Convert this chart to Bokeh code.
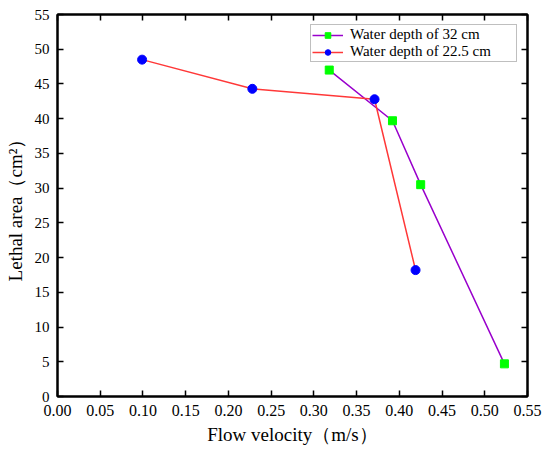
from bokeh.plotting import figure
from bokeh.models import (Range1d, LinearAxis, FixedTicker, NumeralTickFormatter, Legend, LegendItem,
                          CustomJSTickFormatter, CustomLabelingPolicy)
from bokeh.embed import file_html
from bokeh.resources import INLINE

# ---- data ----
vel_32 = [0.318, 0.392, 0.425, 0.523]
area_32 = [47.0, 39.7, 30.5, 4.7]
vel_225 = [0.099, 0.228, 0.371, 0.419]
area_225 = [48.5, 44.3, 42.8, 18.2]
series_labels = ["Water depth of 32 cm", "Water depth of 22.5 cm"]
x_ticks = [0.00, 0.05, 0.10, 0.15, 0.20, 0.25, 0.30, 0.35, 0.40, 0.45, 0.50, 0.55]
y_ticks = [0, 5, 10, 15, 20, 25, 30, 35, 40, 45, 50, 55]
x_label = "Flow velocity（m/s）"
y_label = "Lethal area（cm²）"

FONT = "Liberation Serif"
TXT = "black"

p = figure(width=550, height=456, output_backend="svg", toolbar_location=None,
           x_range=Range1d(0, 0.55), y_range=Range1d(0, 55),
           min_border_left=57, min_border_right=23, min_border_top=14, min_border_bottom=60)
p.xgrid.visible = False
p.ygrid.visible = False
p.outline_line_color = "black"
p.outline_line_width = 2
p.background_fill_color = "white"
p.border_fill_color = "white"

p.xaxis.ticker = FixedTicker(ticks=x_ticks)
p.xaxis.formatter = NumeralTickFormatter(format="0.00")
p.yaxis.ticker = FixedTicker(ticks=y_ticks)
p.xaxis.axis_label = x_label
p.yaxis.axis_label = y_label

for ax in (p.xaxis[0], p.yaxis[0]):
    ax.axis_line_color = "black"
    ax.axis_line_width = 2
    ax.major_tick_in = 6
    ax.major_tick_out = 0
    ax.major_tick_line_width = 1.5
    ax.minor_tick_in = 0
    ax.minor_tick_out = 0
    ax.major_label_text_font = FONT
    ax.major_label_text_color = TXT
    ax.axis_label_text_font = FONT
    ax.axis_label_text_font_size = "19px"
    ax.axis_label_text_font_style = "normal"
    ax.axis_label_text_color = TXT

p.xaxis.major_label_text_font_size = "16px"
p.yaxis.major_label_text_font_size = "15px"
p.xaxis.major_label_standoff = 8
p.xaxis.axis_label_standoff = 5
p.yaxis.major_label_standoff = 8
p.yaxis.axis_label_standoff = 6

blank = CustomJSTickFormatter(code="return '';")
no_labels = CustomLabelingPolicy(code="return [];")
top_ax = LinearAxis(ticker=FixedTicker(ticks=x_ticks), formatter=blank, major_label_policy=no_labels,
                    major_label_text_font_size="1px",
                    major_tick_in=6, major_tick_out=0, minor_tick_in=0, minor_tick_out=0,
                    major_tick_line_width=1.5, axis_line_width=2, major_label_standoff=0)
right_ax = LinearAxis(ticker=FixedTicker(ticks=y_ticks), formatter=blank, major_label_policy=no_labels,
                      major_label_text_font_size="1px",
                      major_tick_in=6, major_tick_out=0, minor_tick_in=0, minor_tick_out=0,
                      major_tick_line_width=1.5, axis_line_width=2, major_label_standoff=0)
p.add_layout(top_ax, "above")
p.add_layout(right_ax, "right")

l1 = p.line(vel_32, area_32, line_color="#9900CC", line_width=1.5)
m1 = p.scatter(vel_32, area_32, marker="square", size=8, fill_color="#00FF00", line_color="#00FF00")
l2 = p.line(vel_225, area_225, line_color="#FF3838", line_width=1.5)
m2 = p.scatter(vel_225, area_225, marker="circle", size=9, fill_color="#0000FF", line_color="#0000FF")

legend = Legend(items=[LegendItem(label=series_labels[0], renderers=[l1, m1]),
                       LegendItem(label=series_labels[1], renderers=[l2, m2])],
                location="top_right")
legend.label_text_font = FONT
legend.label_text_font_size = "15px"
legend.label_text_color = TXT
legend.border_line_color = "#808080"
legend.border_line_width = 1
legend.background_fill_color = "white"
legend.padding = 1
legend.spacing = 0
legend.margin = 10
legend.label_height = 14
legend.glyph_height = 14
legend.glyph_width = 31
legend.label_width = 165
legend.label_standoff = 7
p.add_layout(legend)

open("out.html", "w").write(file_html(p, INLINE))
